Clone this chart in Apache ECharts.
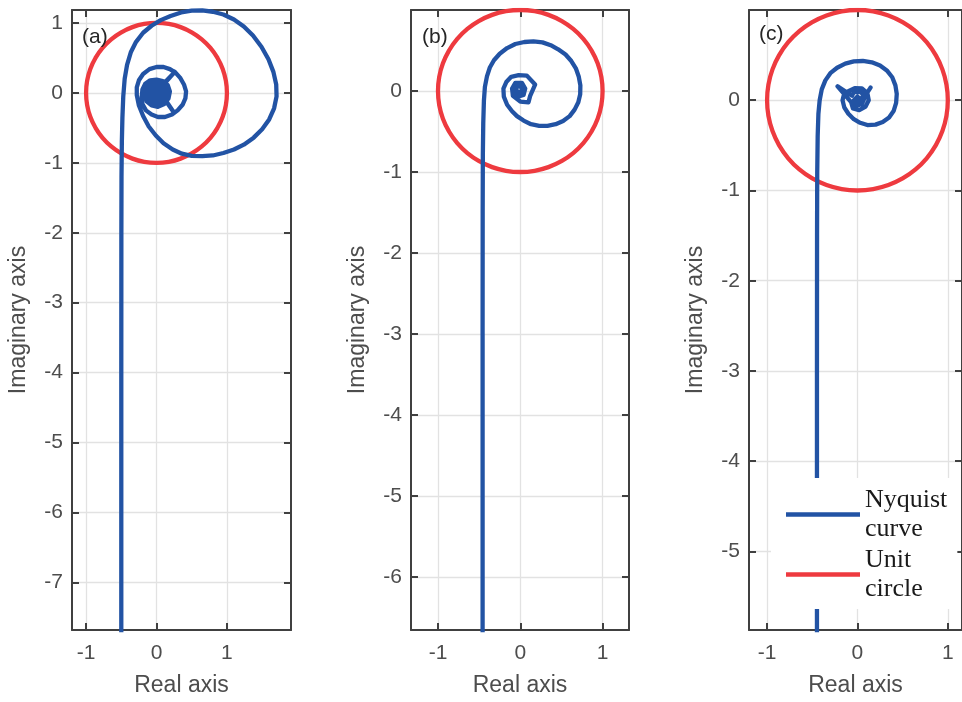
<!DOCTYPE html>
<html>
<head>
<meta charset="utf-8">
<script src="https://cdn.jsdelivr.net/npm/echarts@6/dist/echarts.min.js"></script>
<style>
html,body{margin:0;padding:0;background:#fff;}
#chart{width:962px;height:702px;}
</style>
</head>
<body>
<div id="chart"></div>
<script>
// ---- data ----
var panelLabels = ['(a)', '(b)', '(c)'];
var xTicks = [-1, 0, 1];
var yTicksA = [-7, -6, -5, -4, -3, -2, -1, 0, 1];
var yTicksB = [-6, -5, -4, -3, -2, -1, 0];
var yTicksC = [-5, -4, -3, -2, -1, 0];
var xRangeA = [-1.2, 1.91], yRangeA = [-7.68, 1.185];
var xRangeB = [-1.328, 1.321], yRangeB = [-6.654, 1.0];
var xRangeC = [-1.2, 1.157], yRangeC = [-5.87, 1.0];

var unitCircle = [
[1,0],[0.985,0.174],[0.94,0.342],[0.866,0.5],[0.766,0.643],[0.643,0.766],[0.5,0.866],[0.342,0.94],[0.174,0.985],
[0,1],[-0.174,0.985],[-0.342,0.94],[-0.5,0.866],[-0.643,0.766],[-0.766,0.643],[-0.866,0.5],[-0.94,0.342],[-0.985,0.174],
[-1,0],[-0.985,-0.174],[-0.94,-0.342],[-0.866,-0.5],[-0.766,-0.643],[-0.643,-0.766],[-0.5,-0.866],[-0.342,-0.94],[-0.174,-0.985],
[0,-1],[0.174,-0.985],[0.342,-0.94],[0.5,-0.866],[0.643,-0.766],[0.766,-0.643],[0.866,-0.5],[0.94,-0.342],[0.985,-0.174],[1,0]
];

var nyquistA = [
[-0.5,-8.5],[-0.5,-4],[-0.499,-2],[-0.497,-1.2],[-0.492,-0.7],[-0.484,-0.35],[-0.472,-0.05],[-0.452,0.2],[-0.418,0.4],
[-0.365,0.58],[-0.29,0.73],[-0.19,0.86],[-0.07,0.96],[0.06,1.04],[0.2,1.1],[0.35,1.15],[0.5,1.175],[0.65,1.178],
[0.8,1.16],[0.95,1.12],[1.1,1.05],[1.24,0.95],[1.37,0.82],[1.49,0.66],[1.59,0.48],[1.66,0.3],[1.7,0.12],[1.705,-0.05],
[1.67,-0.22],[1.6,-0.38],[1.5,-0.52],[1.38,-0.64],[1.24,-0.74],[1.1,-0.81],[0.95,-0.86],[0.8,-0.895],[0.65,-0.905],
[0.5,-0.9],[0.36,-0.87],[0.23,-0.81],[0.1,-0.72],[-0.01,-0.61],[-0.11,-0.48],[-0.19,-0.33],[-0.25,-0.18],[-0.28,-0.03],
[-0.28,0.08],[-0.25,0.18],[-0.19,0.27],[-0.1,0.34],[0.0,0.37],[0.1,0.37],[0.19,0.34],[0.27,0.29],[0.34,0.21],[0.39,0.12],
[0.42,0.02],[0.41,-0.08],[0.37,-0.17],[0.3,-0.25],[0.22,-0.31],[0.12,-0.345],[0.02,-0.345],[-0.07,-0.31],[-0.15,-0.25],[-0.2,-0.16],
[-0.21,-0.06],[-0.2,0.05],[-0.16,0.13],[-0.09,0.18],[0.0,0.19],[0.09,0.17],[0.16,0.11],[0.19,0.02],[0.17,-0.08],[0.11,-0.16],
[0.02,-0.2],[-0.07,-0.18],[-0.14,-0.12],[-0.16,-0.03],[-0.14,0.07],[-0.08,0.13],[0.01,0.14],[0.09,0.11],[0.13,0.03],[0.12,-0.06],
[0.06,-0.13],[-0.02,-0.14],[-0.09,-0.1],[-0.11,-0.02],[-0.09,0.06],[-0.03,0.1],[0.04,0.09],[0.08,0.03],[0.07,-0.04],[0.02,-0.09],
[-0.04,-0.08],[-0.07,-0.03],[-0.05,0.04],[0.0,0.06],[0.04,0.02],[0.03,-0.03],[-0.02,-0.04],[-0.03,0.0],[0.0,0.02],
[0.1,0.13],[0.26,0.3],[0.1,0.12],[0.0,0.0],[0.12,-0.1],[0.24,-0.27],[0.12,-0.09],[0.02,-0.01]
];

var nyquistB = [
[-0.458,-7.5],[-0.458,-3],[-0.457,-1.5],[-0.455,-0.8],[-0.45,-0.4],[-0.442,-0.12],[-0.43,0.05],[-0.405,0.18],[-0.37,0.29],
[-0.32,0.38],[-0.25,0.46],[-0.16,0.53],[-0.06,0.58],[0.05,0.605],[0.16,0.612],[0.27,0.6],[0.37,0.565],[0.46,0.515],
[0.55,0.45],[0.62,0.37],[0.675,0.28],[0.71,0.18],[0.73,0.07],[0.728,-0.04],[0.705,-0.14],[0.66,-0.23],[0.6,-0.31],
[0.52,-0.37],[0.43,-0.41],[0.33,-0.43],[0.23,-0.43],[0.13,-0.41],[0.04,-0.365],[-0.04,-0.31],[-0.1,-0.25],[-0.16,-0.17],
[-0.2,-0.07],[-0.205,0.03],[-0.17,0.11],[-0.11,0.175],[-0.02,0.195],[0.08,0.19],[0.18,0.08],[0.12,-0.06],[0.1,-0.14],[0.0,-0.13],
[-0.09,-0.06],[-0.1,0.03],[-0.06,0.1],[0.02,0.1],[0.06,0.03],[0.04,-0.05],[-0.03,-0.07],[-0.07,-0.01],[-0.04,0.06],[0.02,0.05],
[0.02,-0.02],[-0.03,-0.02],[-0.02,0.02]
];

var nyquistC = [
[-0.448,-7],[-0.448,-3],[-0.447,-1.5],[-0.445,-0.8],[-0.44,-0.4],[-0.432,-0.15],[-0.418,0.0],[-0.395,0.12],[-0.355,0.22],
[-0.3,0.3],[-0.225,0.36],[-0.135,0.405],[-0.04,0.43],[0.06,0.435],[0.16,0.42],[0.25,0.385],[0.325,0.33],[0.385,0.255],
[0.42,0.165],[0.435,0.07],[0.428,-0.03],[0.4,-0.12],[0.35,-0.19],[0.28,-0.24],[0.2,-0.27],[0.11,-0.275],[0.03,-0.25],
[-0.04,-0.21],[-0.1,-0.15],[-0.145,-0.08],[-0.165,0.0],[-0.15,0.06],[-0.1,0.1],[-0.03,0.135],[0.05,0.13],[0.11,0.08],
[0.125,0.0],[0.09,-0.07],[0.02,-0.11],[-0.05,-0.09],[-0.07,-0.02],[-0.22,0.155],[-0.06,0.05],[-0.04,0.09],[0.04,0.09],
[0.08,0.03],[0.05,-0.04],[-0.01,-0.06],[-0.04,0.0],[0.0,0.04],[0.04,0.0],[0.0,-0.02],[0.11,0.09],[0.145,0.14],[0.1,0.07],[0.02,0.0]
];

var legendNames = ['Nyquist\ncurve', 'Unit\ncircle'];

// ---- styling / layout ----
var BLUE = '#2253A4', RED = '#EE3A3F';
var AXC = '#404040', LBL = '#4D4D4D', GRIDC = '#E2E2E2';
var FONT = 'Liberation Sans';

var grids = [
  {left: 72, top: 10, width: 219, height: 623},
  {left: 411, top: 10, width: 218, height: 624},
  {left: 749, top: 10, width: 216, height: 624}
];
var xr = [xRangeA, xRangeB, xRangeC];
var yr = [yRangeA, yRangeB, yRangeC];
var yt = [yTicksA, yTicksB, yTicksC];
var curves = [nyquistA, nyquistB, nyquistC];

var xAxes = [], yAxes = [], series = [], graphics = [];
var labelPos = [[82, 26.5], [422, 26.5], [759, 23.5]];

for (var i = 0; i < 3; i++) {
  var tickStyle = {show: true, inside: true, length: 7, lineStyle: {color: AXC, width: 2}};
  var lineStyle = {show: true, onZero: false, lineStyle: {color: AXC, width: 2}};
  xAxes.push({
    gridIndex: i, type: 'value', position: 'bottom', min: xr[i][0], max: xr[i][1],
    axisLine: lineStyle,
    axisTick: Object.assign({customValues: xTicks}, tickStyle),
    axisLabel: {customValues: xTicks, margin: 13, fontSize: 21, color: LBL, fontFamily: FONT},
    splitLine: {show: true, lineStyle: {color: GRIDC, width: 1.3}},
    name: 'Real axis', nameLocation: 'middle', nameGap: 44,
    nameTextStyle: {fontSize: 23, color: LBL, fontFamily: FONT}
  });
  xAxes.push({
    gridIndex: i, type: 'value', position: 'top', min: xr[i][0], max: xr[i][1],
    axisLine: lineStyle,
    axisTick: Object.assign({customValues: xTicks}, tickStyle),
    axisLabel: {show: false}, splitLine: {show: false}
  });
  yAxes.push({
    gridIndex: i, type: 'value', position: 'left', min: yr[i][0], max: yr[i][1],
    axisLine: lineStyle,
    axisTick: Object.assign({customValues: yt[i]}, tickStyle),
    axisLabel: {customValues: yt[i], margin: 9, fontSize: 21, color: LBL, fontFamily: FONT},
    splitLine: {show: true, lineStyle: {color: GRIDC, width: 1.3}},
    name: 'Imaginary axis', nameLocation: 'middle', nameGap: 42, nameRotate: 90,
    nameTextStyle: {fontSize: 23, color: LBL, fontFamily: FONT}
  });
  yAxes.push({
    gridIndex: i, type: 'value', position: 'right', min: yr[i][0], max: yr[i][1],
    axisLine: lineStyle,
    axisTick: Object.assign({customValues: yt[i]}, tickStyle),
    axisLabel: {show: false}, splitLine: {show: false}
  });
  var isC = (i === 2);
  series.push({
    type: 'line', name: isC ? legendNames[0] : 'nyq' + i,
    xAxisIndex: 2 * i, yAxisIndex: 2 * i, data: curves[i],
    symbol: 'none', showSymbol: false, clip: true,
    lineStyle: {color: BLUE, width: 4.3, join: 'round'}, itemStyle: {color: BLUE},
    animation: false, z: 3
  });
  series.push({
    type: 'line', name: isC ? legendNames[1] : 'uc' + i,
    xAxisIndex: 2 * i, yAxisIndex: 2 * i, data: unitCircle, smooth: 0.5,
    symbol: 'none', showSymbol: false, clip: true,
    lineStyle: {color: RED, width: 4.3}, itemStyle: {color: RED},
    animation: false, z: 2
  });
  graphics.push({
    type: 'text', left: labelPos[i][0], top: labelPos[i][1], z: 10,
    style: {text: panelLabels[i], font: '21px "Liberation Sans"', fill: '#262626'}
  });
}

var chart = echarts.init(document.getElementById('chart'), null, {renderer: 'canvas'});
chart.setOption({
  animation: false,
  backgroundColor: '#fff',
  grid: grids,
  xAxis: xAxes,
  yAxis: yAxes,
  series: series,
  graphic: graphics,
  legend: {
    data: legendNames, orient: 'vertical', left: 771, top: 478,
    padding: [7, 10, 5, 15], backgroundColor: '#fff',
    icon: 'rect', itemWidth: 74, itemHeight: 4.3, itemGap: 1, selectedMode: false,
    textStyle: {fontFamily: 'Liberation Serif', fontSize: 26, lineHeight: 29.5, color: '#1A1A1A'}
  }
});
</script>
</body>
</html>
